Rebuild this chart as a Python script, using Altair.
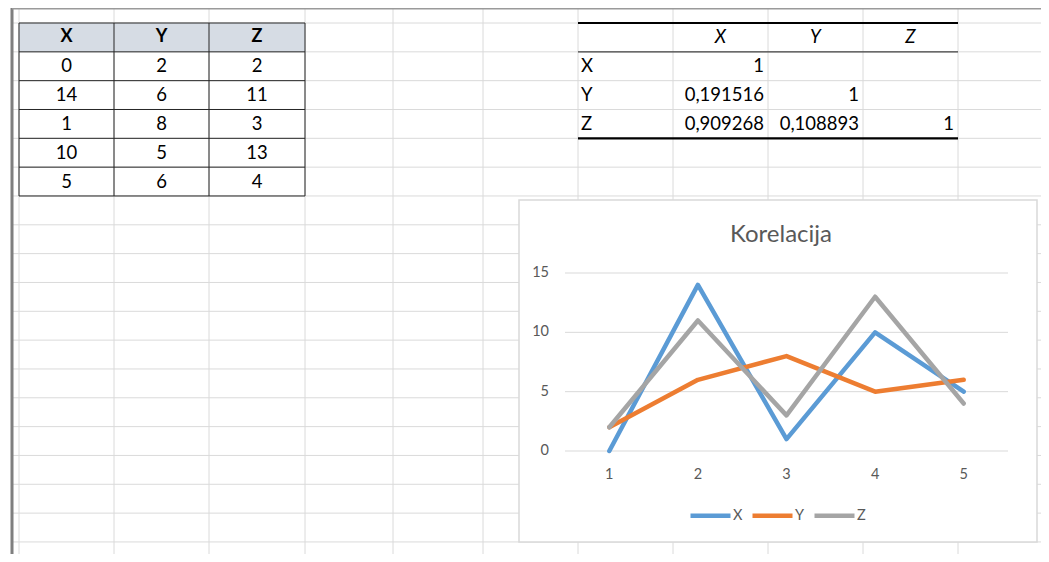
import altair as alt
import pandas as pd

# ---------------- data ----------------
series_names = ["X", "Y", "Z"]
categories = [1, 2, 3, 4, 5]
x_values = [0, 14, 1, 10, 5]
y_values = [2, 6, 8, 5, 6]
z_values = [2, 11, 3, 13, 4]
y_ticks = [0, 5, 10, 15]
chart_title = "Korelacija"
corr_xy = 0.191516
corr_xz = 0.909268
corr_yz = 0.108893

# ---------------- layout (page pixels) ----------------
W, H = 1033, 546
OX, OY = 8, 8
FONT = "Lato"
col_edges = [19, 114, 209, 305, 393, 483, 578, 673, 768, 863, 958]
row_top = 23.0
row_h = 28.83
n_rows = 19
series_colors = ["#5B9BD5", "#ED7D31", "#A5A5A5"]
grid_color = "#DADADA"
label_color = "#595959"

# sheet coordinate system (screen pixels)
SX = alt.Scale(domain=[OX, OX + W], range=[0, W], nice=False, zero=False)
SY = alt.Scale(domain=[OY, OY + H], range=[0, H], nice=False, zero=False)


def sxe(f):
    return alt.X(f, type="quantitative", scale=SX, axis=None)


def sye(f):
    return alt.Y(f, type="quantitative", scale=SY, axis=None)


def row_y(k):
    return row_top + k * row_h


# ---- sheet grid ----
vgrid = pd.DataFrame({"x": col_edges, "y0": [OY] * len(col_edges), "y1": [OY + H] * len(col_edges)})
hgrid = pd.DataFrame({"y": [row_y(k) for k in range(n_rows)]})
hgrid["x0"] = 12
hgrid["x1"] = OX + W

grid_v = alt.Chart(vgrid).mark_rule(color=grid_color, strokeWidth=1).encode(
    x=sxe("x"), y=sye("y0"), y2=alt.Y2("y1"))
grid_h = alt.Chart(hgrid).mark_rule(color=grid_color, strokeWidth=1).encode(
    y=sye("y"), x=sxe("x0"), x2=alt.X2("x1"))

edges = pd.DataFrame({"x0": [12, 12], "x1": [12, OX + W], "y0": [OY, OY], "y1": [OY + H, OY]})
edge_left = alt.Chart(edges.iloc[[0]]).mark_rule(color="#7F7F7F", strokeWidth=3).encode(
    x=sxe("x0"), y=sye("y0"), y2=alt.Y2("y1"))
edge_top = alt.Chart(edges.iloc[[1]]).mark_rule(color="#9A9A9A", strokeWidth=3).encode(
    x=sxe("x0"), x2=alt.X2("x1"), y=sye("y0"))

# ---- data table ----
table_rows = [series_names] + [[str(a), str(b), str(c)] for a, b, c in zip(x_values, y_values, z_values)]
cells = []
for r, row in enumerate(table_rows):
    for c, val in enumerate(row):
        cells.append({"x": (col_edges[c] + col_edges[c + 1]) / 2, "y": row_y(r + 0.5), "t": val, "hdr": r == 0})
cells = pd.DataFrame(cells)

hdr_bg = pd.DataFrame({"x0": [col_edges[0]], "x1": [col_edges[3]], "y0": [row_y(0)], "y1": [row_y(1)]})
tbl_hdr = alt.Chart(hdr_bg).mark_rect(color="#D6DCE4").encode(
    x=sxe("x0"), x2=alt.X2("x1"), y=sye("y0"), y2=alt.Y2("y1"))

tb_v = pd.DataFrame({"x": col_edges[0:4], "y0": row_y(0), "y1": row_y(6)})
tb_h = pd.DataFrame({"y": [row_y(k) for k in range(7)], "x0": col_edges[0], "x1": col_edges[3]})
tbl_v = alt.Chart(tb_v).mark_rule(color="#262626", strokeWidth=1).encode(
    x=sxe("x"), y=sye("y0"), y2=alt.Y2("y1"))
tbl_h = alt.Chart(tb_h).mark_rule(color="#262626", strokeWidth=1).encode(
    y=sye("y"), x=sxe("x0"), x2=alt.X2("x1"))

tbl_txt_hdr = alt.Chart(cells[cells.hdr]).mark_text(
    font=FONT, fontSize=18, fontWeight="bold", color="#000000", align="center", baseline="middle").encode(
    x=sxe("x"), y=sye("y"), text="t:N")
tbl_txt = alt.Chart(cells[~cells.hdr]).mark_text(
    font=FONT, fontSize=18.5, color="#000000", align="center", baseline="middle").encode(
    x=sxe("x"), y=sye("y"), text="t:N")


# ---- correlation table ----
def fmt(v):
    return f"{v:.6f}".replace(".", ",")


corr_cells = [
    (1, 1, "1"),
    (2, 1, fmt(corr_xy)), (2, 2, "1"),
    (3, 1, fmt(corr_xz)), (3, 2, fmt(corr_yz)), (3, 3, "1"),
]
cc0 = 6  # first column of the correlation table
corr_vals = pd.DataFrame([{"x": col_edges[cc0 + c + 1] - 4, "y": row_y(r + 0.5), "t": t} for r, c, t in corr_cells])
corr_rowlab = pd.DataFrame([{"x": col_edges[cc0] + 3, "y": row_y(i + 1.5), "t": n} for i, n in enumerate(series_names)])
corr_collab = pd.DataFrame([{"x": (col_edges[cc0 + i + 1] + col_edges[cc0 + i + 2]) / 2, "y": row_y(0.5), "t": n}
                            for i, n in enumerate(series_names)])

c_vals = alt.Chart(corr_vals).mark_text(font=FONT, fontSize=18.5, color="#000000", align="right",
                                         baseline="middle").encode(x=sxe("x"), y=sye("y"), text="t:N")
c_rowlab = alt.Chart(corr_rowlab).mark_text(font=FONT, fontSize=18.5, color="#000000", align="left",
                                             baseline="middle").encode(x=sxe("x"), y=sye("y"), text="t:N")
c_collab = alt.Chart(corr_collab).mark_text(font=FONT, fontSize=18.5, fontStyle="italic", color="#000000",
                                             align="center", baseline="middle").encode(
    x=sxe("x"), y=sye("y"), text="t:N")

corr_lines = pd.DataFrame({
    "y": [row_y(0), row_y(1), row_y(4)],
    "x0": col_edges[cc0], "x1": col_edges[cc0 + 4],
})
c_top = alt.Chart(corr_lines.iloc[[0, 2]]).mark_rule(color="#000000", strokeWidth=2.2).encode(
    y=sye("y"), x=sxe("x0"), x2=alt.X2("x1"))
c_mid = alt.Chart(corr_lines.iloc[[1]]).mark_rule(color="#404040", strokeWidth=1.3).encode(
    y=sye("y"), x=sxe("x0"), x2=alt.X2("x1"))

# ---- chart box ----
box = pd.DataFrame({"x0": [519], "x1": [1037], "y0": [200], "y1": [542]})
chart_box = alt.Chart(box).mark_rect(fill="white", stroke="#D9D9D9", strokeWidth=1.5).encode(
    x=sxe("x0"), x2=alt.X2("x1"), y=sye("y0"), y2=alt.Y2("y1"))

# ---- line chart (own scales, placed inside the box) ----
CX = alt.Scale(domain=[0.5, 5.5], range=[565 - OX, 1008 - OX], nice=False, zero=False)
CY = alt.Scale(domain=[0, 15], range=[451 - OY, 273 - OY], nice=False, zero=False)

long_rows = []
for name, vals in zip(series_names, [x_values, y_values, z_values]):
    for c, v in zip(categories, vals):
        long_rows.append({"cat": c, "value": v, "series": name})
line_df = pd.DataFrame(long_rows)

tick_df = pd.DataFrame({"t": y_ticks})
cat_df = pd.DataFrame({"c": categories})

c_grid = alt.Chart(tick_df).mark_rule(color="#D9D9D9", strokeWidth=1).encode(
    y=alt.Y("t:Q", scale=CY, axis=None), x=alt.value(565 - OX), x2=alt.value(1008 - OX))
c_ylab = alt.Chart(tick_df).mark_text(font=FONT, fontSize=14.5, color=label_color, align="right",
                                       baseline="middle").encode(
    y=alt.Y("t:Q", scale=CY, axis=None), x=alt.value(549 - OX), text="t:N")
c_xlab = alt.Chart(cat_df).mark_text(font=FONT, fontSize=14.5, color=label_color, align="center",
                                      baseline="middle").encode(
    x=alt.X("c:Q", scale=CX, axis=None), y=alt.value(475 - OY), text="c:N")
c_title = alt.Chart(pd.DataFrame({"t": [chart_title]})).mark_text(
    font=FONT, fontSize=24, fontWeight="normal", color=label_color, align="center", baseline="middle").encode(
    x=alt.value(781 - OX), y=alt.value(235 - OY), text="t:N")

c_lines = alt.Chart(line_df).mark_line(strokeWidth=4.5, strokeCap="round", strokeJoin="round").encode(
    x=alt.X("cat:Q", scale=CX, axis=None),
    y=alt.Y("value:Q", scale=CY, axis=None),
    color=alt.Color("series:N", scale=alt.Scale(domain=series_names, range=series_colors),
                    legend=alt.Legend(orient="none", legendX=688 - OX, legendY=493 - OY,
                                      direction="horizontal", title=None, symbolType="stroke",
                                      symbolSize=1600, symbolStrokeWidth=4.5, labelFont=FONT,
                                      labelFontSize=14.5, labelColor=label_color, labelOffset=0,
                                      columnPadding=0)),
)

chart = alt.layer(
    grid_v, grid_h, edge_left, edge_top,
    tbl_hdr, tbl_v, tbl_h, tbl_txt_hdr, tbl_txt,
    c_top, c_mid, c_vals, c_rowlab, c_collab,
    chart_box, c_grid, c_ylab, c_xlab, c_title, c_lines,
).resolve_scale(x="independent", y="independent").properties(
    width=W, height=H, padding=0, autosize="none"
).configure_view(stroke=None)

chart.save("out.html", embed_options={"renderer": "svg", "actions": False})
